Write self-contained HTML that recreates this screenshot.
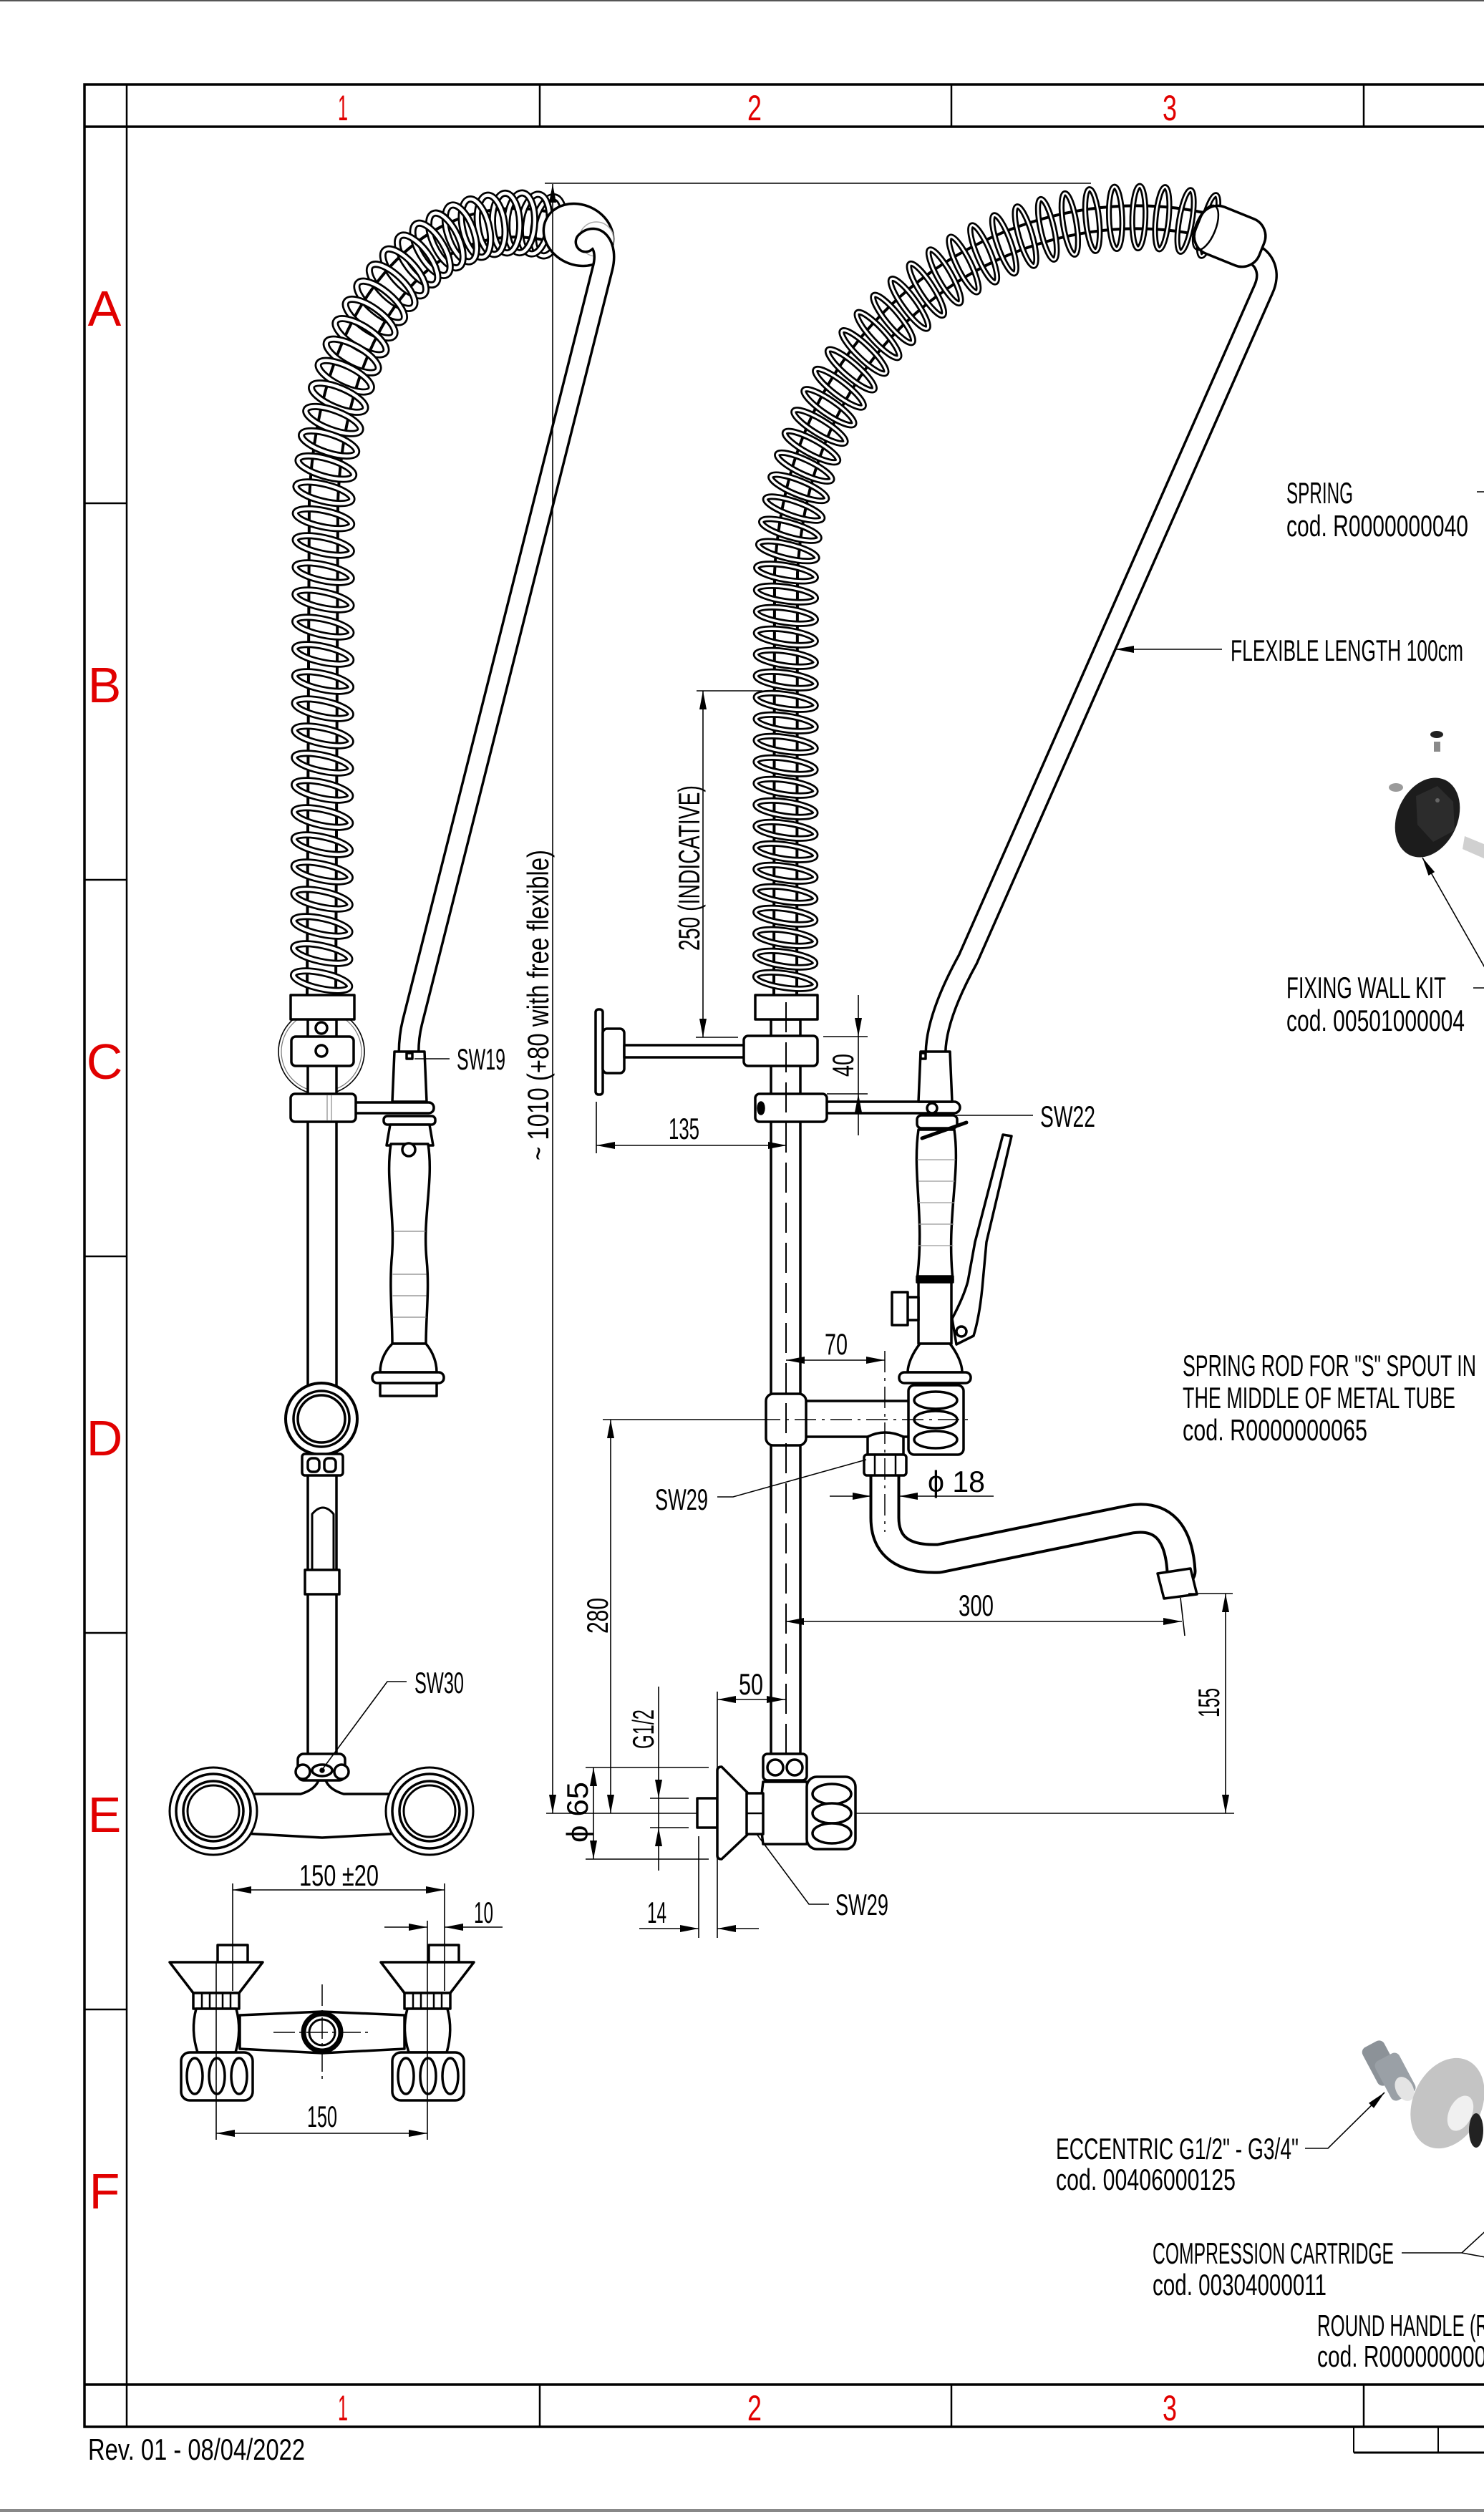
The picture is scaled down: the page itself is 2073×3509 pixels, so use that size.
<!DOCTYPE html>
<html><head><meta charset="utf-8">
<style>
html,body{margin:0;padding:0;background:#fff;}
svg{display:block;}
text{font-family:"Liberation Sans",sans-serif;}
.t{font-size:42px;fill:#000;}
.n{font-size:50px;fill:#e10000;}
.L{font-size:70px;fill:#e10000;}
</style></head><body>
<svg id="s" xmlns="http://www.w3.org/2000/svg" width="2073" height="3509" viewBox="0 0 2073 3509">
<defs>
<marker id="a" viewBox="0 0 26 10" refX="26" refY="5" markerWidth="26" markerHeight="10" markerUnits="userSpaceOnUse" orient="auto-start-reverse"><path d="M0,0L26,5L0,10z" fill="#000"/></marker>
</defs>

<!-- page edges -->
<rect x="0" y="0" width="2073" height="2" fill="#555"/>
<rect x="0" y="3505" width="2073" height="4" fill="#888"/>

<!-- frame -->
<g stroke="#000" fill="none">
<path d="M2080,118 H118 V3390 H2080" stroke-width="3.5"/>
<path d="M118,177 H2080 M118,3331 H2080" stroke-width="3.5"/>
<path d="M177,118 V3390" stroke-width="2.5"/>
<path d="M754,118V177M1329,118V177M1905,118V177M754,3331V3390M1329,3331V3390M1905,3331V3390" stroke-width="2.5"/>
<path d="M118,703H177M118,1229H177M118,1755H177M118,2281H177M118,2807H177" stroke-width="2.5"/>
<path d="M1891,3390V3426M2009,3390V3426" stroke-width="2"/>
<path d="M1891,3426H2080" stroke-width="3"/>
</g>

<!-- grid labels -->
<text class="n" x="479" y="168" text-anchor="middle" textLength="14" lengthAdjust="spacingAndGlyphs">1</text>
<text class="n" x="1054" y="168" text-anchor="middle" textLength="20" lengthAdjust="spacingAndGlyphs">2</text>
<text class="n" x="1634" y="168" text-anchor="middle" textLength="20" lengthAdjust="spacingAndGlyphs">3</text>
<text class="n" x="479" y="3381" text-anchor="middle" textLength="14" lengthAdjust="spacingAndGlyphs">1</text>
<text class="n" x="1054" y="3381" text-anchor="middle" textLength="20" lengthAdjust="spacingAndGlyphs">2</text>
<text class="n" x="1634" y="3381" text-anchor="middle" textLength="20" lengthAdjust="spacingAndGlyphs">3</text>
<text class="L" x="146" y="455" text-anchor="middle">A</text>
<text class="L" x="146" y="981" text-anchor="middle">B</text>
<text class="L" x="146" y="1507" text-anchor="middle">C</text>
<text class="L" x="146" y="2033" text-anchor="middle">D</text>
<text class="L" x="146" y="2559" text-anchor="middle">E</text>
<text class="L" x="146" y="3085" text-anchor="middle">F</text>
<text class="t" x="123" y="3436" textLength="303" lengthAdjust="spacingAndGlyphs">Rev. 01 - 08/04/2022</text>

<!-- springs (generated) -->
<g id="spr"></g>

<g stroke="#000" stroke-width="3.5" fill="#fff" stroke-linejoin="round" stroke-linecap="round">
<!-- left cap -->
<ellipse cx="808" cy="328" rx="50" ry="42" transform="rotate(25 808 328)"/>
<circle cx="833" cy="334" r="24" stroke="#aaa" stroke-width="1.5"/>
<!-- left rigid flexible -->
<path d="M818,338 C832,324 850,342 842,374 L576,1428 Q571,1448 571,1470" fill="none" stroke-width="31"/>
<path d="M818,338 C832,324 850,342 842,374 L576,1428 Q571,1448 571,1470" fill="none" stroke="#fff" stroke-width="24"/>
<!-- middle rigid flexible -->
<path d="M1745,352 C1768,360 1775,382 1765,404 L1352,1340 Q1308,1420 1307,1470" fill="none" stroke-width="31"/>
<path d="M1745,352 C1768,360 1775,382 1765,404 L1352,1340 Q1308,1420 1307,1470" fill="none" stroke="#fff" stroke-width="24"/>
<!-- middle cap -->
<rect x="1670" y="295" width="96" height="70" rx="26" transform="rotate(22 1718 330)"/>
<ellipse cx="1684" cy="318" rx="14" ry="33" transform="rotate(22 1684 318)" fill="none" stroke-width="2.5"/>

<!-- ===== LEFT FAUCET ===== -->
<circle cx="449" cy="1469" r="60" fill="none" stroke-width="1.6"/>
<circle cx="449" cy="1469" r="56" fill="none" stroke-width="1.2" stroke="#777"/>
<rect x="430" y="1424" width="40" height="1030"/>
<rect x="406" y="1390" width="89" height="34"/>
<circle cx="449" cy="1436" r="8"/>
<rect x="407" y="1448" width="87" height="41" rx="6"/>
<circle cx="449" cy="1468" r="8"/>
<rect x="476" y="1540" width="130" height="15" rx="7"/>
<rect x="406" y="1528" width="91" height="39" rx="6"/>
<path d="M457,1530V1565M463,1530V1565" stroke-width="1.2" stroke="#888" fill="none"/>
<polygon points="551,1469 593,1469 596,1539 548,1539"/>
<rect x="568" y="1471" width="8" height="8"/>
<rect x="536" y="1559" width="72" height="12" rx="5"/>
<path d="M540,1600 L545,1571 H600 L605,1600 Z"/>
<path d="M546,1598 C538,1650 553,1700 547,1760 C544,1800 548,1840 548,1877 H595 C595,1840 600,1800 596,1760 C590,1700 606,1650 598,1598 Z"/>
<path d="M550,1720H594M549,1780H595M549,1810H595M549,1840H595" stroke-width="1.2" stroke="#888" fill="none"/>
<circle cx="571" cy="1606" r="9"/>
<path d="M548,1877 C535,1890 531,1905 531,1917 H610 C610,1905 606,1890 595,1877 Z"/>
<rect x="520" y="1917" width="100" height="15" rx="7"/>
<rect x="531" y="1932" width="79" height="18"/>
<!-- valve knob -->
<circle cx="449" cy="1982" r="50" stroke-width="4"/>
<circle cx="449" cy="1982" r="39"/>
<circle cx="449" cy="1982" r="33"/>
<rect x="422" y="2031" width="57" height="30" rx="4"/>
<rect x="430" y="2037" width="16" height="19" rx="6"/>
<rect x="453" y="2037" width="16" height="19" rx="6"/>
<path d="M436,2193 V2115 Q451,2097 466,2115 V2193" fill="none" stroke-width="3"/>
<rect x="426" y="2193" width="48" height="34"/>
<!-- wall mixer -->
<path d="M340,2506 H420 Q440,2500 445,2487 H455 Q460,2500 480,2506 H560 V2561 L450,2567 L340,2561 Z"/>
<rect x="416" y="2450" width="66" height="37" rx="8"/>
<circle cx="423" cy="2475" r="10"/>
<circle cx="477" cy="2475" r="10"/>
<ellipse cx="450" cy="2473" rx="14" ry="8"/>
<circle cx="450" cy="2473" r="2" fill="#000"/>
<circle cx="298" cy="2530" r="61" stroke-width="3"/>
<circle cx="298" cy="2530" r="52" stroke-width="3.5"/>
<circle cx="298" cy="2530" r="42" stroke-width="3.5"/>
<circle cx="298" cy="2530" r="36" stroke-width="3"/>
<circle cx="600" cy="2530" r="61" stroke-width="3"/>
<circle cx="600" cy="2530" r="52" stroke-width="3.5"/>
<circle cx="600" cy="2530" r="42" stroke-width="3.5"/>
<circle cx="600" cy="2530" r="36" stroke-width="3"/>

<!-- top view mixer -->
<path d="M335,2815 L450,2810 L565,2815 V2862 L450,2868 L335,2862 Z"/>
<g id="tapL">
<rect x="304" y="2717" width="42" height="24"/>
<polygon points="237,2741 367,2741 334,2784 270,2784"/>
<rect x="270" y="2784" width="64" height="22"/>
<path d="M282,2784V2806M293,2784V2806M311,2784V2806M322,2784V2806" fill="none" stroke-width="2.5"/>
<path d="M274,2806 Q266,2836 276,2867 H329 Q338,2836 330,2806 Z"/>
<rect x="253" y="2867" width="100" height="67" rx="12"/>
<ellipse cx="272" cy="2900" rx="11" ry="25"/>
<ellipse cx="303" cy="2900" rx="11" ry="25"/>
<ellipse cx="334" cy="2900" rx="11" ry="25"/>
</g>
<use href="#tapL" x="295" y="0"/>
<circle cx="450" cy="2839" r="26" stroke-width="7"/>
<circle cx="450" cy="2839" r="18" stroke-width="3"/>
</g>
<path d="M450,2772V2910M382,2839H518" stroke="#000" stroke-width="1.5" stroke-dasharray="30 6 4 6" fill="none"/>

<!-- ===== MIDDLE FAUCET ===== -->
<path d="M763,2533 H1724" stroke="#000" stroke-width="1.5" fill="none"/>
<path d="M842,1983 H1060" stroke="#000" stroke-width="1.5" fill="none"/>
<g stroke="#000" stroke-width="3.5" fill="#fff" stroke-linejoin="round" stroke-linecap="round">
<rect x="832" y="1410" width="10" height="119" rx="4"/>
<rect x="842" y="1437" width="30" height="62" rx="6"/>
<rect x="872" y="1460" width="170" height="17"/>
<rect x="1077" y="1424" width="41" height="1026"/>
<rect x="1055" y="1390" width="87" height="34"/>
<rect x="1039" y="1447" width="103" height="42" rx="6"/>
<rect x="1150" y="1539" width="191" height="16" rx="8"/>
<rect x="1055" y="1528" width="100" height="39" rx="6"/>
<ellipse cx="1063" cy="1548" rx="4" ry="8" fill="#000"/>
<polygon points="1286,1469 1327,1469 1330,1539 1283,1539"/>
<rect x="1286" y="1471" width="7" height="8"/>
<circle cx="1302" cy="1548" r="7"/>
<rect x="1281" y="1558" width="56" height="18" rx="6"/>
<path d="M1283,1578 C1274,1640 1292,1700 1281,1788 H1331 C1322,1700 1342,1640 1333,1578 Z"/>
<path d="M1282,1620H1334M1284,1650H1333M1284,1680H1333M1284,1710H1332M1283,1740H1331" stroke-width="1.2" stroke="#999" fill="none"/>
<path d="M1288,1590 L1350,1568" stroke-width="5" fill="none"/>
<rect x="1281" y="1783" width="50" height="8" fill="#000"/>
<rect x="1283" y="1791" width="46" height="86"/>
<rect x="1266" y="1812" width="17" height="32"/>
<rect x="1246" y="1805" width="22" height="46"/>
<path d="M1401,1585 L1413,1587 L1378,1735 L1372,1800 Q1368,1840 1360,1866 L1336,1878 L1330,1842 Q1346,1812 1352,1790 L1362,1735 Z"/>
<circle cx="1343" cy="1860" r="7"/>
<path d="M1285,1877 C1275,1890 1268,1905 1268,1917 H1344 C1344,1905 1337,1890 1327,1877 Z"/>
<rect x="1256" y="1917" width="100" height="15" rx="7"/>
<rect x="1120" y="1957" width="152" height="50"/>
<rect x="1070" y="1947" width="56" height="72" rx="10"/>
<!-- spout -->
<path d="M1236,2055 L1236,2120 Q1236,2180 1312,2177 L1580,2122 Q1645,2112 1650,2195" fill="none" stroke-width="43"/>
<path d="M1236,2055 L1236,2120 Q1236,2180 1312,2177 L1580,2122 Q1645,2112 1650,2195" fill="none" stroke="#fff" stroke-width="35"/>
<polygon points="1617,2198 1663,2191 1672,2227 1626,2233"/>
<path d="M1212,2007 Q1236,1995 1262,2007 V2032 H1212 Z"/>
<rect x="1207" y="2032" width="59" height="29" rx="4"/>
<path d="M1222,2034V2059M1251,2034V2059" fill="none" stroke-width="2.5"/>
<rect x="1269" y="1935" width="77" height="97" rx="8"/>
<ellipse cx="1307" cy="1956" rx="30" ry="12"/>
<ellipse cx="1307" cy="1983" rx="30" ry="12"/>
<ellipse cx="1307" cy="2011" rx="30" ry="12"/>
<!-- bottom valve -->
<rect x="1066" y="2450" width="61" height="37" rx="6"/>
<circle cx="1083" cy="2469" r="11"/>
<circle cx="1110" cy="2469" r="11"/>
<path d="M1066,2489 H1127 Q1133,2533 1127,2576 H1066 Q1060,2533 1066,2489 Z"/>
<rect x="974" y="2512" width="28" height="41"/>
<path d="M1002,2473 Q1002,2468 1008,2468 L1045,2505 V2562 L1008,2597 Q1002,2597 1002,2592 Z"/>
<rect x="1043" y="2505" width="23" height="57"/>
<path d="M1043,2533H1066" fill="none" stroke-width="2.5"/>
<rect x="1127" y="2482" width="68" height="101" rx="14"/>
<ellipse cx="1162" cy="2506" rx="27" ry="14"/>
<ellipse cx="1162" cy="2533" rx="27" ry="14"/>
<ellipse cx="1162" cy="2561" rx="27" ry="14"/>
</g>
<path d="M1098,1400 V2450" stroke="#000" stroke-width="2" stroke-dasharray="42 14" fill="none"/>
<path d="M1060,1983 H1355 M1236,1887 V2140" stroke="#000" stroke-width="1.5" stroke-dasharray="30 8 4 8" fill="none"/>

<!-- ===== DIMENSIONS ===== -->
<g stroke="#000" stroke-width="1.6" fill="none">
<path d="M772,257 V2533" marker-start="url(#a)" marker-end="url(#a)"/>
<path d="M761,256 H1524"/>
<path d="M853,1983 V2533" marker-start="url(#a)" marker-end="url(#a)"/>
<path d="M982,965 V1449" marker-start="url(#a)" marker-end="url(#a)"/>
<path d="M973,965 H1065 M972,1449 H1031"/>
<path d="M1199,1390 V1448" marker-end="url(#a)"/>
<path d="M1199,1586 V1528" marker-end="url(#a)"/>
<path d="M1199,1448 V1528 M1150,1448 H1212 M1155,1528 H1212"/>
<path d="M833,1600 H1099" marker-start="url(#a)" marker-end="url(#a)"/>
<path d="M833,1539 V1611"/>
<path d="M1098,1900 H1236" marker-start="url(#a)" marker-end="url(#a)"/>
<path d="M1159,2090 H1217" marker-end="url(#a)"/>
<path d="M1388,2090 H1256" marker-end="url(#a)"/>
<path d="M1097,2265 H1651" marker-start="url(#a)" marker-end="url(#a)"/>
<path d="M1649,2232 L1655,2285"/>
<path d="M1712,2226 V2533" marker-start="url(#a)" marker-end="url(#a)"/>
<path d="M1660,2226 H1722"/>
<path d="M1002,2374 H1097" marker-start="url(#a)" marker-end="url(#a)"/>
<path d="M1002,2363 V2707"/>
<path d="M920,2356 V2512" marker-end="url(#a)"/>
<path d="M920,2613 V2553" marker-end="url(#a)"/>
<path d="M920,2512 V2553 M908,2512 H962 M908,2553 H962"/>
<path d="M829,2469 V2597" marker-start="url(#a)" marker-end="url(#a)"/>
<path d="M818,2469 H990 M818,2597 H990"/>
<path d="M893,2694 H976" marker-end="url(#a)"/>
<path d="M1060,2694 H1002" marker-end="url(#a)"/>
<path d="M976,2565 V2707"/>
<path d="M1002,2091 H1024 L1210,2039"/>
<path d="M1057,2562 L1130,2660 H1158"/>
<path d="M1336,1558 H1443"/>
<path d="M579,1479 H628"/>
<path d="M568,2349 H541 L450,2472"/>
<path d="M325,2640 H621" marker-start="url(#a)" marker-end="url(#a)"/>
<path d="M325,2631 V2781 M621,2631 V2781"/>
<path d="M537,2692 H597" marker-end="url(#a)"/>
<path d="M702,2692 H621" marker-end="url(#a)"/>
<path d="M597,2683 V2989"/>
<path d="M302,2980 H597" marker-start="url(#a)" marker-end="url(#a)"/>
<path d="M302,2741 V2989"/>
<path d="M1707,907 H1558" marker-end="url(#a)"/>
<path d="M2063,687 H2080"/>
<path d="M2058,1380 H2080"/>
<path d="M2080,1362 L1987,1198" marker-end="url(#a)"/>
<path d="M1823,3001 H1855 L1934,2923" marker-end="url(#a)"/>
<path d="M1958,3147 H2042 L2080,3112 M2042,3147 L2080,3154"/>
</g>

<!-- ===== TEXT ===== -->
<text class="t" x="638" y="1494" textLength="68" lengthAdjust="spacingAndGlyphs">SW19</text>
<text class="t" font-size="40" transform="translate(766,1621) rotate(-90)" textLength="434" lengthAdjust="spacingAndGlyphs">~ 1010 (+80 with free flexible)</text>
<text class="t" transform="translate(977,1328) rotate(-90)" textLength="231" lengthAdjust="spacingAndGlyphs">250 (INDICATIVE)</text>
<text class="t" transform="translate(1192,1504) rotate(-90)" textLength="32" lengthAdjust="spacingAndGlyphs">40</text>
<text class="t" x="934" y="1591" textLength="43" lengthAdjust="spacingAndGlyphs">135</text>
<text class="t" x="1453" y="1574" textLength="77" lengthAdjust="spacingAndGlyphs">SW22</text>
<text class="t" x="1152" y="1892" textLength="32" lengthAdjust="spacingAndGlyphs">70</text>
<text class="t" x="1296" y="2084" textLength="80" lengthAdjust="spacingAndGlyphs">ϕ 18</text>
<text class="t" x="915" y="2109" textLength="74" lengthAdjust="spacingAndGlyphs">SW29</text>
<text class="t" transform="translate(849,2282) rotate(-90)" textLength="50" lengthAdjust="spacingAndGlyphs">280</text>
<text class="t" x="1339" y="2257" textLength="49" lengthAdjust="spacingAndGlyphs">300</text>
<text class="t" x="1032" y="2367" textLength="34" lengthAdjust="spacingAndGlyphs">50</text>
<text class="t" transform="translate(913,2443) rotate(-90)" textLength="55" lengthAdjust="spacingAndGlyphs">G1/2</text>
<text class="t" transform="translate(1703,2399) rotate(-90)" textLength="41" lengthAdjust="spacingAndGlyphs">155</text>
<text class="t" transform="translate(821,2574) rotate(-90)" textLength="85" lengthAdjust="spacingAndGlyphs">ϕ 65</text>
<text class="t" x="904" y="2686" textLength="27" lengthAdjust="spacingAndGlyphs">14</text>
<text class="t" x="1167" y="2675" textLength="74" lengthAdjust="spacingAndGlyphs">SW29</text>
<text class="t" x="579" y="2365" textLength="69" lengthAdjust="spacingAndGlyphs">SW30</text>
<text class="t" x="418" y="2634" textLength="111" lengthAdjust="spacingAndGlyphs">150 ±20</text>
<text class="t" x="662" y="2686" textLength="27" lengthAdjust="spacingAndGlyphs">10</text>
<text class="t" x="429" y="2971" textLength="42" lengthAdjust="spacingAndGlyphs">150</text>
<text class="t" x="1797" y="703" textLength="93" lengthAdjust="spacingAndGlyphs">SPRING</text>
<text class="t" x="1797" y="749" textLength="254" lengthAdjust="spacingAndGlyphs">cod. R0000000040</text>
<text class="t" x="1719" y="923" textLength="325" lengthAdjust="spacingAndGlyphs">FLEXIBLE LENGTH 100cm</text>
<text class="t" x="1797" y="1394" textLength="223" lengthAdjust="spacingAndGlyphs">FIXING WALL KIT</text>
<text class="t" x="1797" y="1440" textLength="249" lengthAdjust="spacingAndGlyphs">cod. 00501000004</text>
<text class="t" x="1652" y="1922" textLength="410" lengthAdjust="spacingAndGlyphs">SPRING ROD FOR &quot;S&quot; SPOUT IN</text>
<text class="t" x="1652" y="1967" textLength="381" lengthAdjust="spacingAndGlyphs">THE MIDDLE OF METAL TUBE</text>
<text class="t" x="1652" y="2012" textLength="258" lengthAdjust="spacingAndGlyphs">cod. R0000000065</text>
<text class="t" x="1475" y="3016" textLength="339" lengthAdjust="spacingAndGlyphs">ECCENTRIC G1/2&quot; - G3/4&quot;</text>
<text class="t" x="1475" y="3059" textLength="251" lengthAdjust="spacingAndGlyphs">cod. 00406000125</text>
<text class="t" x="1610" y="3162" textLength="337" lengthAdjust="spacingAndGlyphs">COMPRESSION CARTRIDGE</text>
<text class="t" x="1610" y="3206" textLength="243" lengthAdjust="spacingAndGlyphs">cod. 00304000011</text>
<text class="t" x="1840" y="3263" textLength="240" lengthAdjust="spacingAndGlyphs">ROUND HANDLE (R</text>
<text class="t" x="1840" y="3306" textLength="253" lengthAdjust="spacingAndGlyphs">cod. R0000000002</text>

<!-- ===== 3D part pictures ===== -->
<g>
<ellipse cx="2007" cy="1026" rx="9" ry="5" fill="#222"/>
<rect x="2003" y="1036" width="9" height="14" fill="#8a8a8a"/>
<ellipse cx="1950" cy="1100" rx="10" ry="6" fill="#9a9a9a"/>
<ellipse cx="1994" cy="1142" rx="42" ry="58" transform="rotate(25 1994 1142)" fill="#1c1c1c"/>
<path d="M1978,1112 L2008,1098 L2030,1120 L2032,1160 L2002,1176 L1980,1152 Z" fill="#2c2c2c"/>
<circle cx="2008" cy="1118" r="3" fill="#666"/>
<path d="M2046,1168 L2075,1180 L2075,1200 L2043,1186 Z" fill="#d0d0d0"/>
<rect x="1912" y="2852" width="34" height="60" rx="8" transform="rotate(-28 1929 2882)" fill="#8c9298"/>
<rect x="1930" y="2870" width="38" height="62" rx="8" transform="rotate(-28 1949 2901)" fill="#9aa0a6"/>
<ellipse cx="1962" cy="2918" rx="12" ry="18" transform="rotate(-28 1962 2918)" fill="#e4e4e4"/>
<ellipse cx="2022" cy="2938" rx="48" ry="66" transform="rotate(25 2022 2938)" fill="#c4c4c4"/>
<ellipse cx="2040" cy="2952" rx="16" ry="26" transform="rotate(25 2040 2952)" fill="#f0f0f0"/>
<ellipse cx="2062" cy="2976" rx="10" ry="24" fill="#222"/>
</g>
</svg>
<script>
(function(){
var NS="http://www.w3.org/2000/svg";
var g=document.getElementById('spr');
function mk(tag,at){var e=document.createElementNS(NS,tag);for(var k in at)e.setAttribute(k,at[k]);g.appendChild(e);return e;}
function spring(d,hw,o){
  var p=mk('path',{d:d,fill:'none',stroke:'#000','stroke-width':hw+8});
  mk('path',{d:d,fill:'none',stroke:'#fff','stroke-width':hw});
  var L=p.getTotalLength();
  var s=o.start;
  while(s<L-o.end){
    var f=Math.min(1,s/o.trans);
    var pt=p.getPointAtLength(s),p2=p.getPointAtLength(Math.min(L,s+2)),p1=p.getPointAtLength(Math.max(0,s-2));
    var ang=Math.atan2(p2.y-p1.y,p2.x-p1.x)*180/Math.PI;
    var a=o.a0+(o.a1-o.a0)*f,b=o.b0+(o.b1-o.b0)*f,t=o.t0+(o.t1-o.t0)*f,w=o.w0+(o.w1-o.w0)*f;
    var tr='translate('+pt.x.toFixed(1)+','+pt.y.toFixed(1)+') rotate('+(ang+t).toFixed(1)+')';
    mk('ellipse',{cx:0,cy:0,rx:b,ry:a,transform:tr,fill:'none',stroke:'#000','stroke-width':w});
    mk('ellipse',{cx:0,cy:0,rx:b,ry:a,transform:tr,fill:'none',stroke:'#fff','stroke-width':w-5.5});
    s+=o.p0+(o.p1-o.p0)*f;
  }
}
spring('M774,318 C600,275 462,440 452,700 L449,1392',36,{start:8,end:16,trans:620,a0:42,a1:40,b0:20,b1:11,t0:0,t1:12,p0:19,p1:38,w0:10,w1:10});
spring('M1700,318 C1450,250 1118,420 1098,800 L1097,1392',28,{start:12,end:12,trans:700,a0:44,a1:42,b0:9,b1:10,t0:0,t1:8,p0:33,p1:30,w0:8,w1:9});
})();
</script>
</body></html>
